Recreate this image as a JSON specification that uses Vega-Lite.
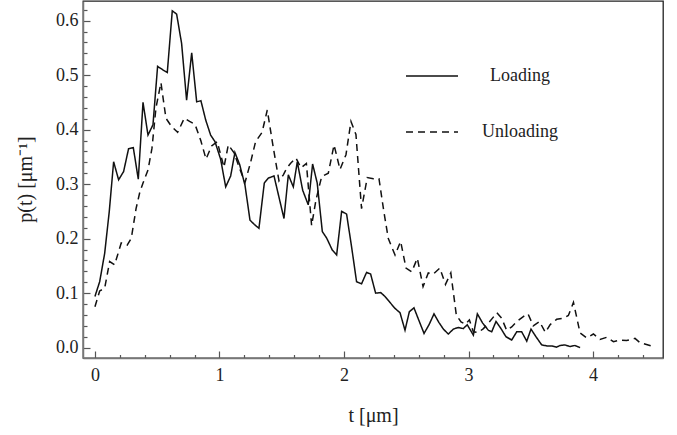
{
  "$schema": "https://vega.github.io/schema/vega-lite/v6.json",
  "width": 580,
  "height": 357,
  "autosize": "none",
  "padding": {"left": 83, "top": 1, "right": 14, "bottom": 77},
  "background": "white",
  "config": {
    "view": {"stroke": "#222", "strokeWidth": 1.3},
    "font": "Liberation Serif"
  },
  "data": {
    "values": [
      {"t": 0, "p": 0.094, "s": "Loading"},
      {"t": 0.038, "p": 0.121, "s": "Loading"},
      {"t": 0.078, "p": 0.173, "s": "Loading"},
      {"t": 0.115, "p": 0.25, "s": "Loading"},
      {"t": 0.15, "p": 0.341, "s": "Loading"},
      {"t": 0.19, "p": 0.308, "s": "Loading"},
      {"t": 0.23, "p": 0.323, "s": "Loading"},
      {"t": 0.27, "p": 0.365, "s": "Loading"},
      {"t": 0.308, "p": 0.367, "s": "Loading"},
      {"t": 0.348, "p": 0.309, "s": "Loading"},
      {"t": 0.386, "p": 0.45, "s": "Loading"},
      {"t": 0.426, "p": 0.39, "s": "Loading"},
      {"t": 0.466, "p": 0.409, "s": "Loading"},
      {"t": 0.503, "p": 0.516, "s": "Loading"},
      {"t": 0.543, "p": 0.51, "s": "Loading"},
      {"t": 0.581, "p": 0.505, "s": "Loading"},
      {"t": 0.621, "p": 0.618, "s": "Loading"},
      {"t": 0.656, "p": 0.612, "s": "Loading"},
      {"t": 0.696, "p": 0.558, "s": "Loading"},
      {"t": 0.736, "p": 0.454, "s": "Loading"},
      {"t": 0.777, "p": 0.541, "s": "Loading"},
      {"t": 0.817, "p": 0.451, "s": "Loading"},
      {"t": 0.851, "p": 0.453, "s": "Loading"},
      {"t": 0.889, "p": 0.418, "s": "Loading"},
      {"t": 0.929, "p": 0.39, "s": "Loading"},
      {"t": 0.964, "p": 0.378, "s": "Loading"},
      {"t": 1.009, "p": 0.346, "s": "Loading"},
      {"t": 1.05, "p": 0.295, "s": "Loading"},
      {"t": 1.09, "p": 0.315, "s": "Loading"},
      {"t": 1.124, "p": 0.358, "s": "Loading"},
      {"t": 1.162, "p": 0.336, "s": "Loading"},
      {"t": 1.205, "p": 0.298, "s": "Loading"},
      {"t": 1.245, "p": 0.234, "s": "Loading"},
      {"t": 1.28, "p": 0.226, "s": "Loading"},
      {"t": 1.317, "p": 0.219, "s": "Loading"},
      {"t": 1.36, "p": 0.302, "s": "Loading"},
      {"t": 1.392, "p": 0.311, "s": "Loading"},
      {"t": 1.438, "p": 0.315, "s": "Loading"},
      {"t": 1.478, "p": 0.276, "s": "Loading"},
      {"t": 1.518, "p": 0.237, "s": "Loading"},
      {"t": 1.553, "p": 0.317, "s": "Loading"},
      {"t": 1.593, "p": 0.295, "s": "Loading"},
      {"t": 1.625, "p": 0.341, "s": "Loading"},
      {"t": 1.668, "p": 0.289, "s": "Loading"},
      {"t": 1.713, "p": 0.262, "s": "Loading"},
      {"t": 1.748, "p": 0.337, "s": "Loading"},
      {"t": 1.785, "p": 0.302, "s": "Loading"},
      {"t": 1.826, "p": 0.213, "s": "Loading"},
      {"t": 1.861, "p": 0.201, "s": "Loading"},
      {"t": 1.906, "p": 0.179, "s": "Loading"},
      {"t": 1.941, "p": 0.17, "s": "Loading"},
      {"t": 1.981, "p": 0.25, "s": "Loading"},
      {"t": 2.021, "p": 0.245, "s": "Loading"},
      {"t": 2.061, "p": 0.185, "s": "Loading"},
      {"t": 2.101, "p": 0.121, "s": "Loading"},
      {"t": 2.141, "p": 0.117, "s": "Loading"},
      {"t": 2.181, "p": 0.138, "s": "Loading"},
      {"t": 2.214, "p": 0.135, "s": "Loading"},
      {"t": 2.254, "p": 0.1, "s": "Loading"},
      {"t": 2.295, "p": 0.101, "s": "Loading"},
      {"t": 2.329, "p": 0.094, "s": "Loading"},
      {"t": 2.369, "p": 0.083, "s": "Loading"},
      {"t": 2.41, "p": 0.072, "s": "Loading"},
      {"t": 2.45, "p": 0.064, "s": "Loading"},
      {"t": 2.49, "p": 0.032, "s": "Loading"},
      {"t": 2.525, "p": 0.066, "s": "Loading"},
      {"t": 2.562, "p": 0.073, "s": "Loading"},
      {"t": 2.605, "p": 0.048, "s": "Loading"},
      {"t": 2.643, "p": 0.026, "s": "Loading"},
      {"t": 2.685, "p": 0.043, "s": "Loading"},
      {"t": 2.723, "p": 0.062, "s": "Loading"},
      {"t": 2.763, "p": 0.046, "s": "Loading"},
      {"t": 2.798, "p": 0.034, "s": "Loading"},
      {"t": 2.838, "p": 0.025, "s": "Loading"},
      {"t": 2.878, "p": 0.034, "s": "Loading"},
      {"t": 2.918, "p": 0.037, "s": "Loading"},
      {"t": 2.958, "p": 0.035, "s": "Loading"},
      {"t": 2.99, "p": 0.042, "s": "Loading"},
      {"t": 3.039, "p": 0.023, "s": "Loading"},
      {"t": 3.071, "p": 0.062, "s": "Loading"},
      {"t": 3.114, "p": 0.045, "s": "Loading"},
      {"t": 3.159, "p": 0.032, "s": "Loading"},
      {"t": 3.186, "p": 0.029, "s": "Loading"},
      {"t": 3.221, "p": 0.048, "s": "Loading"},
      {"t": 3.258, "p": 0.036, "s": "Loading"},
      {"t": 3.301, "p": 0.02, "s": "Loading"},
      {"t": 3.347, "p": 0.014, "s": "Loading"},
      {"t": 3.387, "p": 0.029, "s": "Loading"},
      {"t": 3.427, "p": 0.029, "s": "Loading"},
      {"t": 3.468, "p": 0.012, "s": "Loading"},
      {"t": 3.502, "p": 0.034, "s": "Loading"},
      {"t": 3.542, "p": 0.02, "s": "Loading"},
      {"t": 3.588, "p": 0.005, "s": "Loading"},
      {"t": 3.633, "p": 0.003, "s": "Loading"},
      {"t": 3.668, "p": 0.003, "s": "Loading"},
      {"t": 3.708, "p": 0.001, "s": "Loading"},
      {"t": 3.735, "p": 0.004, "s": "Loading"},
      {"t": 3.775, "p": 0.005, "s": "Loading"},
      {"t": 3.815, "p": 0.002, "s": "Loading"},
      {"t": 3.855, "p": 0.004, "s": "Loading"},
      {"t": 3.896, "p": 0.0, "s": "Loading"},
      {"t": 0, "p": 0.075, "s": "Unloading"},
      {"t": 0.038, "p": 0.104, "s": "Unloading"},
      {"t": 0.078, "p": 0.109, "s": "Unloading"},
      {"t": 0.118, "p": 0.158, "s": "Unloading"},
      {"t": 0.158, "p": 0.152, "s": "Unloading"},
      {"t": 0.211, "p": 0.192, "s": "Unloading"},
      {"t": 0.259, "p": 0.188, "s": "Unloading"},
      {"t": 0.292, "p": 0.201, "s": "Unloading"},
      {"t": 0.33, "p": 0.255, "s": "Unloading"},
      {"t": 0.36, "p": 0.285, "s": "Unloading"},
      {"t": 0.386, "p": 0.302, "s": "Unloading"},
      {"t": 0.426, "p": 0.326, "s": "Unloading"},
      {"t": 0.458, "p": 0.366, "s": "Unloading"},
      {"t": 0.49, "p": 0.44, "s": "Unloading"},
      {"t": 0.53, "p": 0.486, "s": "Unloading"},
      {"t": 0.57, "p": 0.421, "s": "Unloading"},
      {"t": 0.614, "p": 0.406, "s": "Unloading"},
      {"t": 0.664, "p": 0.395, "s": "Unloading"},
      {"t": 0.718, "p": 0.421, "s": "Unloading"},
      {"t": 0.76, "p": 0.415, "s": "Unloading"},
      {"t": 0.803, "p": 0.41, "s": "Unloading"},
      {"t": 0.85, "p": 0.38, "s": "Unloading"},
      {"t": 0.892, "p": 0.346, "s": "Unloading"},
      {"t": 0.937, "p": 0.37, "s": "Unloading"},
      {"t": 0.982, "p": 0.378, "s": "Unloading"},
      {"t": 1.036, "p": 0.331, "s": "Unloading"},
      {"t": 1.071, "p": 0.372, "s": "Unloading"},
      {"t": 1.116, "p": 0.358, "s": "Unloading"},
      {"t": 1.16, "p": 0.33, "s": "Unloading"},
      {"t": 1.205, "p": 0.303, "s": "Unloading"},
      {"t": 1.25, "p": 0.34, "s": "Unloading"},
      {"t": 1.29, "p": 0.378, "s": "Unloading"},
      {"t": 1.342, "p": 0.395, "s": "Unloading"},
      {"t": 1.384, "p": 0.436, "s": "Unloading"},
      {"t": 1.43, "p": 0.37, "s": "Unloading"},
      {"t": 1.478, "p": 0.306, "s": "Unloading"},
      {"t": 1.513, "p": 0.317, "s": "Unloading"},
      {"t": 1.54, "p": 0.329, "s": "Unloading"},
      {"t": 1.57, "p": 0.338, "s": "Unloading"},
      {"t": 1.614, "p": 0.348, "s": "Unloading"},
      {"t": 1.655, "p": 0.33, "s": "Unloading"},
      {"t": 1.698, "p": 0.338, "s": "Unloading"},
      {"t": 1.74, "p": 0.224, "s": "Unloading"},
      {"t": 1.775, "p": 0.271, "s": "Unloading"},
      {"t": 1.821, "p": 0.314, "s": "Unloading"},
      {"t": 1.874, "p": 0.32, "s": "Unloading"},
      {"t": 1.92, "p": 0.372, "s": "Unloading"},
      {"t": 1.968, "p": 0.327, "s": "Unloading"},
      {"t": 2.016, "p": 0.354, "s": "Unloading"},
      {"t": 2.056, "p": 0.415, "s": "Unloading"},
      {"t": 2.096, "p": 0.391, "s": "Unloading"},
      {"t": 2.141, "p": 0.255, "s": "Unloading"},
      {"t": 2.187, "p": 0.312, "s": "Unloading"},
      {"t": 2.236, "p": 0.31, "s": "Unloading"},
      {"t": 2.281, "p": 0.31, "s": "Unloading"},
      {"t": 2.32, "p": 0.25, "s": "Unloading"},
      {"t": 2.356, "p": 0.2, "s": "Unloading"},
      {"t": 2.41, "p": 0.17, "s": "Unloading"},
      {"t": 2.455, "p": 0.195, "s": "Unloading"},
      {"t": 2.498, "p": 0.146, "s": "Unloading"},
      {"t": 2.544, "p": 0.139, "s": "Unloading"},
      {"t": 2.589, "p": 0.164, "s": "Unloading"},
      {"t": 2.635, "p": 0.112, "s": "Unloading"},
      {"t": 2.677, "p": 0.137, "s": "Unloading"},
      {"t": 2.717, "p": 0.135, "s": "Unloading"},
      {"t": 2.77, "p": 0.146, "s": "Unloading"},
      {"t": 2.815, "p": 0.116, "s": "Unloading"},
      {"t": 2.858, "p": 0.137, "s": "Unloading"},
      {"t": 2.902, "p": 0.06, "s": "Unloading"},
      {"t": 2.94, "p": 0.047, "s": "Unloading"},
      {"t": 2.975, "p": 0.043, "s": "Unloading"},
      {"t": 3.007, "p": 0.051, "s": "Unloading"},
      {"t": 3.039, "p": 0.029, "s": "Unloading"},
      {"t": 3.079, "p": 0.028, "s": "Unloading"},
      {"t": 3.12, "p": 0.035, "s": "Unloading"},
      {"t": 3.16, "p": 0.045, "s": "Unloading"},
      {"t": 3.228, "p": 0.064, "s": "Unloading"},
      {"t": 3.266, "p": 0.054, "s": "Unloading"},
      {"t": 3.306, "p": 0.032, "s": "Unloading"},
      {"t": 3.347, "p": 0.038, "s": "Unloading"},
      {"t": 3.387, "p": 0.048, "s": "Unloading"},
      {"t": 3.44, "p": 0.057, "s": "Unloading"},
      {"t": 3.478, "p": 0.062, "s": "Unloading"},
      {"t": 3.52, "p": 0.04, "s": "Unloading"},
      {"t": 3.57, "p": 0.048, "s": "Unloading"},
      {"t": 3.617, "p": 0.028, "s": "Unloading"},
      {"t": 3.655, "p": 0.042, "s": "Unloading"},
      {"t": 3.708, "p": 0.052, "s": "Unloading"},
      {"t": 3.76, "p": 0.054, "s": "Unloading"},
      {"t": 3.802, "p": 0.059, "s": "Unloading"},
      {"t": 3.843, "p": 0.083, "s": "Unloading"},
      {"t": 3.896, "p": 0.027, "s": "Unloading"},
      {"t": 3.949, "p": 0.018, "s": "Unloading"},
      {"t": 4.003, "p": 0.025, "s": "Unloading"},
      {"t": 4.056, "p": 0.015, "s": "Unloading"},
      {"t": 4.11, "p": 0.019, "s": "Unloading"},
      {"t": 4.164, "p": 0.011, "s": "Unloading"},
      {"t": 4.217, "p": 0.014, "s": "Unloading"},
      {"t": 4.27, "p": 0.013, "s": "Unloading"},
      {"t": 4.337, "p": 0.017, "s": "Unloading"},
      {"t": 4.378, "p": 0.009, "s": "Unloading"},
      {"t": 4.47, "p": 0.003, "s": "Unloading"}
    ]
  },
  "mark": {"type": "line", "color": "#111", "strokeWidth": 1.5, "clip": true},
  "encoding": {
    "x": {
      "field": "t",
      "type": "quantitative",
      "sort": null,
      "scale": {"domain": [-0.096, 4.562], "nice": false, "zero": false},
      "axis": {
        "title": "t [μm]",
        "titleFont": "Liberation Serif",
        "titleFontSize": 20,
        "titleFontWeight": "normal",
        "titleColor": "#222",
        "titleY": 57,
        "titleBaseline": "middle",
        "values": [0, 0.2, 0.4, 0.6, 0.8, 1, 1.2, 1.4, 1.6, 1.8, 2, 2.2, 2.4, 2.6, 2.8, 3, 3.2, 3.4, 3.6, 3.8, 4, 4.2, 4.4],
        "format": ".0f",
        "labelExpr": "abs(datum.value - round(datum.value)) < 0.001 ? datum.label : ''",
        "labelOverlap": false,
        "labelFlush": false,
        "labelFont": "Liberation Serif",
        "labelFontSize": 18,
        "labelColor": "#222",
        "labelPadding": 15,
        "grid": false,
        "domainColor": "#777",
        "domainWidth": 1.5,
        "tickColor": "#555",
        "tickWidth": 1.2,
        "tickSize": {"condition": {"test": "abs(datum.value - round(datum.value)) < 0.001", "value": -7}, "value": -3.5}
      }
    },
    "y": {
      "field": "p",
      "type": "quantitative",
      "scale": {"domain": [-0.019, 0.636], "nice": false, "zero": false},
      "axis": {
        "title": "p(t) [μm⁻¹]",
        "titleFont": "Liberation Serif",
        "titleFontSize": 20,
        "titleFontWeight": "normal",
        "titleColor": "#222",
        "titleX": -58,
        "titleY": 178,
        "titleBaseline": "middle",
        "values": [0, 0.02, 0.04, 0.06, 0.08, 0.1, 0.12, 0.14, 0.16, 0.18, 0.2, 0.22, 0.24, 0.26, 0.28, 0.3, 0.32, 0.34, 0.36, 0.38, 0.4, 0.42, 0.44, 0.46, 0.48, 0.5, 0.52, 0.54, 0.56, 0.58, 0.6, 0.62],
        "format": ".1f",
        "labelExpr": "abs(datum.value * 10 - round(datum.value * 10)) < 0.001 ? datum.label : ''",
        "labelOverlap": false,
        "labelFlush": false,
        "labelFont": "Liberation Serif",
        "labelFontSize": 18,
        "labelColor": "#222",
        "labelPadding": 12,
        "grid": false,
        "domainColor": "#777",
        "domainWidth": 1.5,
        "tickColor": "#555",
        "tickWidth": 1.2,
        "tickSize": {"condition": {"test": "abs(datum.value * 10 - round(datum.value * 10)) < 0.001", "value": -7}, "value": -4}
      }
    },
    "strokeDash": {
      "field": "s",
      "type": "nominal",
      "scale": {"domain": ["Loading", "Unloading"], "range": [[1, 0], [7, 5]]},
      "legend": {
        "title": null,
        "orient": "none",
        "legendX": 322,
        "legendY": 48,
        "padding": 0,
        "symbolType": "stroke",
        "symbolSize": 2704,
        "symbolStrokeWidth": 1.5,
        "symbolStrokeColor": "#111",
        "rowPadding": 20,
        "labelFont": "Liberation Serif",
        "labelFontSize": 18,
        "labelColor": "#222",
        "labelAlign": "center",
        "labelOffset": 61,
        "labelLimit": 200
      }
    }
  }
}
